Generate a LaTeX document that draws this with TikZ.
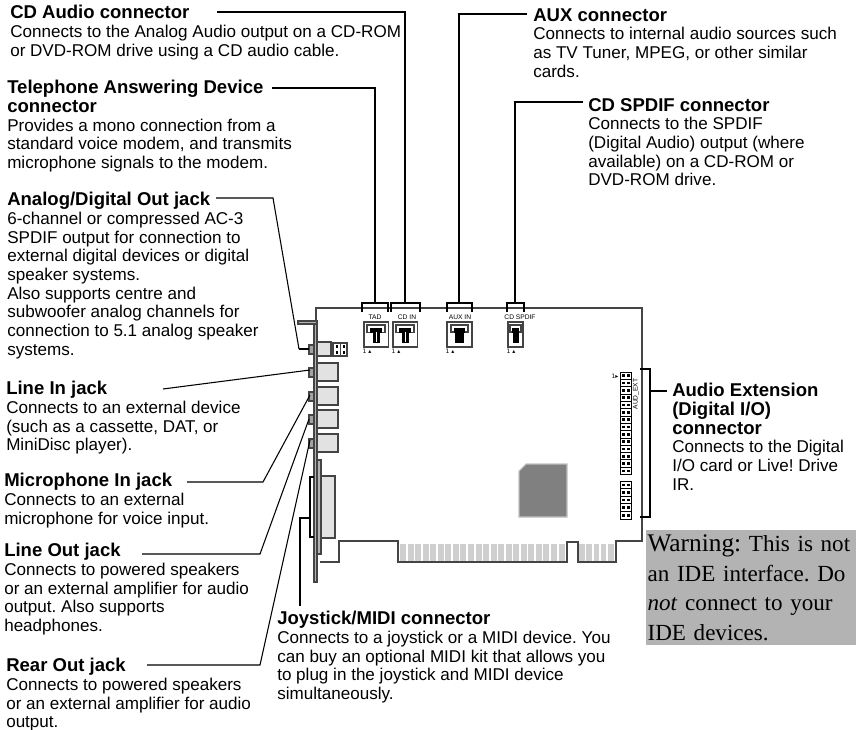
\documentclass[tikz,border=0pt]{standalone}
\usepackage{fontspec}
\setmainfont{Liberation Sans}
\newfontfamily\serifface{Liberation Serif}
\newfontfamily\symface{DejaVu Sans}
\newcommand{\headline}[1]{{\fontsize{13.9}{14}\selectfont\bfseries #1}}
\definecolor{cardline}{HTML}{444444}
\definecolor{jackfill}{HTML}{E2E2E2}
\definecolor{fingerfill}{HTML}{CFCFCF}
\definecolor{chipfill}{HTML}{808080}
\definecolor{chipedge}{HTML}{C0C0C0}
\definecolor{warnfill}{HTML}{B3B3B3}
\tikzset{
	infotext/.style={anchor=north west, inner sep=0pt, align=left, font=\fontsize{12.8}{14}\selectfont\frenchspacing},
	warntext/.style={anchor=north west, inner xsep=1pt, inner ysep=0pt, fill=warnfill, text width=155.5pt, minimum height=86.25pt, align=left, font=\serifface\fontsize{17.3}{22.2}\selectfont\frenchspacing},
	tinytext/.style={inner sep=0pt, font=\fontsize{5}{5}\selectfont},
	pintext/.style={inner sep=0pt, font=\symface\fontsize{4.5}{5}\selectfont},
	leadthick/.style={line width=1.5pt},
	leadthin/.style={line width=0.8pt},
	cardedge/.style={draw=cardline, line width=1pt},
	jackbox/.style={draw=cardline, fill=jackfill, line width=1.1pt},
	jumperbox/.style={draw=cardline, fill=white, line width=1pt}
}
\begin{document}
\begin{tikzpicture}[x=0.75pt, y=-0.75pt]
	\useasboundingbox (0,0) rectangle (856,730);

	%Texte links
	\node[infotext] (cdaudio) at (10,5) {\headline{CD Audio connector}\\Connects to the Analog Audio output on a CD-ROM\\or DVD-ROM drive using a CD audio cable.};
	\node[infotext] (tad) at (7,80) {\headline{Telephone Answering Device}\\\headline{connector}\\Provides a mono connection from a\\standard voice modem, and transmits\\microphone signals to the modem.};
	\node[infotext] (spdifout) at (7,192) {\headline{Analog/Digital Out jack}\\6-channel or compressed AC-3\\SPDIF output for connection to\\external digital devices or digital\\speaker systems.\\Also supports centre and\\subwoofer analog channels for\\connection to 5.1 analog speaker\\systems.};
	\node[infotext] (linein) at (6,381) {\headline{Line In jack}\\Connects to an external device\\(such as a cassette, DAT, or\\MiniDisc player).};
	\node[infotext] (micin) at (4,473) {\headline{Microphone In jack}\\Connects to an external\\microphone for voice input.};
	\node[infotext] (lineout) at (4,543) {\headline{Line Out jack}\\Connects to powered speakers\\or an external amplifier for audio\\output. Also supports\\headphones.};
	\node[infotext] (rearout) at (6,658) {\headline{Rear Out jack}\\Connects to powered speakers\\or an external amplifier for audio\\output.};

	%Texte rechts und unten
	\node[infotext] (aux) at (533,8) {\headline{AUX connector}\\Connects to internal audio sources such\\as TV Tuner, MPEG, or other similar\\cards.};
	\node[infotext] (cdspdif) at (588,98) {\headline{CD SPDIF connector}\\Connects to the SPDIF\\(Digital Audio) output (where\\available) on a CD-ROM or\\DVD-ROM drive.};
	\node[infotext] (audext) at (672,383) {\headline{Audio Extension}\\\headline{(Digital I/O)}\\\headline{connector}\\Connects to the Digital\\I/O card or Live! Drive\\IR.};
	\node[infotext] (joystick) at (277,611) {\headline{Joystick/MIDI connector}\\Connects to a joystick or a MIDI device. You\\can buy an optional MIDI kit that allows you\\to plug in the joystick and MIDI device\\simultaneously.};
	\node[warntext] (warning) at (646,530) {{\fontsize{19}{22.2}\selectfont Warning:} This is not\\an IDE interface. Do\\\textit{not} connect to your\\IDE devices.};

	%Kartenrand
	\draw[cardedge] (316,322) -- (316,308) -- (642,308) -- (642,541) -- (616,541) -- (616,562) -- (578,562) -- (578,542) -- (567,542) -- (567,562) -- (398,562) -- (398,541) -- (339,541) -- (339,562) -- (320,562);

	%Kontakte
	\foreach \i in {0,...,21}
		\fill[fingerfill] ({400+7.55*\i},544) rectangle +(6,17);
	\foreach \i in {0,...,4}
		\fill[fingerfill] ({579+7.3*\i},544) rectangle +(5.5,17);

	%Slotblech
	\draw[cardline, fill=jackfill!70!cardline, line width=0.8pt] (298,321) rectangle (317,324);
	\draw[cardline, fill=jackfill!70!cardline, line width=0.8pt] (314,324) rectangle (317,582);

	%Buchsen
	\draw[jackbox] (317,342) rectangle (331,356);
	\draw[jackbox, fill=jackfill!60!cardline] (309,345) rectangle (314,354);
	\draw[cardline, line width=1pt] (333,343) rectangle (347,356);
	\draw[cardline, line width=0.7pt] (340,343) -- (340,356);
	\foreach \x in {336,343} \foreach \y in {345,351}
		\fill[black] (\x,\y) rectangle +(2,3);
	\foreach \y in {363,387,410,434} {
		\draw[jackbox] (317,\y) rectangle (338,\y+18);
		\draw[jackbox, fill=jackfill!60!cardline] (309,\y+5) rectangle (314,\y+14);
	}

	%Joystick-Anschluss
	\draw[jackbox] (321,476) rectangle (335,538);
	\draw[cardline, fill=jackfill!70!cardline, line width=0.8pt] (317,460) rectangle (321,554);
	\coordinate (joyshell) at (310,518);
	\draw[leadthick] (314,477) -- (310,477) -- (310,537) -- (314,537);

	%Stiftleisten oben
	\foreach \x in {364,393} {
		\draw[jumperbox] (\x,322) rectangle +(24.5,25);
		\draw[draw=cardline, fill=white, line width=1.2pt] (\x+3,325) rectangle +(18,7.5);
		\fill[black] (\x+6,328) rectangle +(12,5);
		\fill[black] (\x+8.5,330) rectangle +(7,13);
		\fill[white] (\x+11.5,332) rectangle +(1,10);
	}
	\draw[jumperbox] (447,322) rectangle (472,347);
	\draw[draw=cardline, fill=white, line width=1.2pt] (451,325) rectangle (468,332);
	\fill[black] (454,328) rectangle (465,333);
	\fill[black] (455,333) rectangle (464,343);
	\draw[jumperbox] (508,322) rectangle (523,347);
	\draw[draw=cardline, fill=white, line width=1.2pt] (510,325) rectangle (521,332);
	\fill[black] (512,328) rectangle (519,333);
	\fill[black] (512.5,333) rectangle (518.5,343);

	%Beschriftung Stiftleisten
	\node[tinytext] (tadname) at (375,317) {TAD};
	\node[tinytext] (cdinname) at (407,317) {CD IN};
	\node[tinytext] (auxname) at (460,317) {AUX IN};
	\node[tinytext] (spdifname) at (520,317) {CD SPDIF};
	\node[pintext] (tadpin) at (367,351) {1 ▴};
	\node[pintext] (cdinpin) at (396,351) {1 ▴};
	\node[pintext] (auxpin) at (450,351) {1 ▴};
	\node[pintext] (spdifpin) at (511,351) {1 ▴};
	\node[pintext] (extpin) at (615,376) {1▸};
	\node[tinytext, rotate=90] (extname) at (636,394) {AUD\_EXT};

	%Erweiterungsleiste
	\foreach \i in {0,...,13} {
		\draw[black, fill=white, line width=0.7pt] (620,{372+7.33*\i}) rectangle +(11.5,7.33);
		\fill[black] (622,{374.5+7.33*\i}) rectangle +(2.6,2.6);
		\fill[black] (627,{374.5+7.33*\i}) rectangle +(2.6,2.6);
	}
	\foreach \i in {0,...,4} {
		\draw[black, fill=white, line width=0.7pt] (620,{481+7.6*\i}) rectangle +(11.5,7.6);
		\fill[black] (622,{483.5+7.6*\i}) rectangle +(2.6,2.6);
		\fill[black] (627,{483.5+7.6*\i}) rectangle +(2.6,2.6);
	}

	%Chip
	\draw[draw=chipedge, fill=chipfill, line width=0.8pt] (526,464) -- (567,464) -- (567,517) -- (519,517) -- (519,471) -- cycle;

	%Klammern oben
	\coordinate (tadtop) at (375,303);
	\coordinate (cdintop) at (405,303);
	\coordinate (auxtop) at (459,303);
	\coordinate (spdiftop) at (515,303);
	\draw[leadthick] (362,312) -- (362,303) -- (388,303) -- (388,312);
	\draw[leadthick] (391,312) -- (391,303) -- (420,303) -- (420,312);
	\draw[leadthick] (447,312) -- (447,303) -- (472,303) -- (472,312);
	\draw[leadthick] (507,312) -- (507,303) -- (524,303) -- (524,312);

	%Klammer rechts
	\coordinate (extmid) at (650,391);
	\draw[leadthick] (640,369) -- (650,369) -- (650,517) -- (640,517);

	%Enden der Linien
	\coordinate (cdaudioend) at (217,12);
	\coordinate (cdaudiobend) at (405,12);
	\coordinate (tadend) at (272,88);
	\coordinate (tadbend) at (375,88);
	\coordinate (spdifoutend) at (216,198);
	\coordinate (spdifoutbend) at (273,198);
	\coordinate (spdifoutfoot) at (299,349);
	\coordinate (spdifoutnub) at (309,349);
	\coordinate (lineinend) at (163,389);
	\coordinate (lineinnub) at (310,370);
	\coordinate (micinend) at (187,482);
	\coordinate (micinbend) at (263,482);
	\coordinate (micinnub) at (310,395);
	\coordinate (lineoutend) at (142,554);
	\coordinate (lineoutbend) at (260,554);
	\coordinate (lineoutnub) at (309,419);
	\coordinate (rearoutend) at (147,665);
	\coordinate (rearoutbend) at (260,665);
	\coordinate (rearoutnub) at (310,440);
	\coordinate (auxend) at (527,14);
	\coordinate (auxbend) at (459,14);
	\coordinate (cdspdifend) at (583,102);
	\coordinate (cdspdifbend) at (515,102);
	\coordinate (extend) at (667,391);
	\coordinate (joyend) at (300,606);
	\coordinate (joybend) at (300,518);

	%Linien
	\draw[leadthick] (cdaudioend) -- (cdaudiobend) -- (cdintop);
	\draw[leadthick] (tadend) -- (tadbend) -- (tadtop);
	\draw[leadthin] (spdifoutend) -- (spdifoutbend) -- (spdifoutfoot);
	\draw[leadthick] (spdifoutfoot) -- (spdifoutnub);
	\draw[leadthin] (lineinend) -- (lineinnub);
	\draw[leadthin] (micinend) -- (micinbend) -- (micinnub);
	\draw[leadthin] (lineoutend) -- (lineoutbend) -- (lineoutnub);
	\draw[leadthin] (rearoutend) -- (rearoutbend) -- (rearoutnub);
	\draw[leadthick] (auxend) -- (auxbend) -- (auxtop);
	\draw[leadthick] (cdspdifend) -- (cdspdifbend) -- (spdiftop);
	\draw[leadthin] (extend) -- (extmid);
	\draw[leadthick] (joyend) -- (joybend) -- (joyshell);
\end{tikzpicture}
\end{document}
